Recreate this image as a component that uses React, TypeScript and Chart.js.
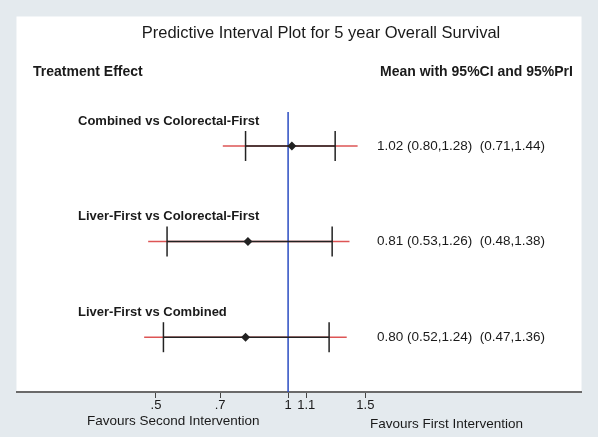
import React, { useEffect, useRef } from "react";
import { Chart, registerables } from "chart.js";

Chart.register(...registerables);

// ---- data ----
const comparisons = [
  "Combined vs Colorectal-First",
  "Liver-First vs Colorectal-First",
  "Liver-First vs Combined",
];
const rowIndex = [1, 2, 3];
const means = [1.02, 0.81, 0.8];
const ciLow = [0.8, 0.53, 0.52];
const ciHigh = [1.28, 1.26, 1.24];
const piLow = [0.71, 0.48, 0.47];
const piHigh = [1.44, 1.38, 1.36];
const xTickValues = [0.5, 0.7, 1, 1.1, 1.5];
const xTickLabels = [".5", ".7", "1", "1.1", "1.5"];
const nullEffect = 1;

const titleText = "Predictive Interval Plot for 5 year Overall Survival";
const leftHeader = "Treatment Effect";
const rightHeader = "Mean with 95%CI and 95%PrI";
const leftFooter = "Favours Second Intervention";
const rightFooter = "Favours First Intervention";

const FONT = "'Liberation Sans', Arial, Helvetica, sans-serif";
const RED = "#dd5555";
const BLACK = "#222222";
const BLUE = "#2a4cc2";

const fmt = (v: number) => v.toFixed(2);

const decorPlugin = {
  id: "decor",
  beforeDraw(chart: any) {
    const { ctx, chartArea } = chart;
    ctx.save();
    ctx.fillStyle = "#e4eaee";
    ctx.fillRect(0, 0, chart.width, chart.height);
    ctx.fillStyle = "#ffffff";
    ctx.fillRect(chartArea.left, chartArea.top, chartArea.right - chartArea.left, chartArea.bottom - chartArea.top);
    ctx.restore();
  },
  afterDraw(chart: any) {
    const { ctx } = chart;
    const y = chart.scales.y;
    ctx.save();
    ctx.fillStyle = "#1a1a1a";
    ctx.textBaseline = "middle";

    ctx.font = `16.5px ${FONT}`;
    ctx.textAlign = "center";
    ctx.fillText(titleText, 321, 33);

    ctx.textAlign = "left";
    ctx.font = `bold 14px ${FONT}`;
    ctx.fillText(leftHeader, 33, 72);
    ctx.fillText(rightHeader, 380, 72);

    comparisons.forEach((name, i) => {
      const py = y.getPixelForValue(rowIndex[i]);
      ctx.font = `bold 13px ${FONT}`;
      ctx.fillText(name, 78, py - 25);
      ctx.font = `13.5px ${FONT}`;
      const txt = `${fmt(means[i])} (${fmt(ciLow[i])},${fmt(ciHigh[i])})  (${fmt(piLow[i])},${fmt(piHigh[i])})`;
      ctx.fillText(txt, 377, py);
    });

    ctx.font = `13.5px ${FONT}`;
    ctx.fillText(leftFooter, 87, 421);
    ctx.fillText(rightFooter, 370, 424);
    ctx.restore();
  },
};

export default function App() {
  const ref = useRef<HTMLCanvasElement | null>(null);

  useEffect(() => {
    if (!ref.current) return;
    const datasets: any[] = [];

    datasets.push({
      label: "mean",
      data: means.map((m, i) => ({ x: m, y: rowIndex[i] })),
      showLine: false,
      pointStyle: "rectRot",
      pointRadius: 4.5,
      backgroundColor: BLACK,
      borderColor: BLACK,
      pointBorderWidth: 0,
      order: 0,
    });

    rowIndex.forEach((r, i) => {
      datasets.push({
        label: `ci${i}`,
        data: [
          { x: ciLow[i], y: r },
          { x: ciHigh[i], y: r },
        ],
        showLine: true,
        borderColor: BLACK,
        borderWidth: 1.5,
        pointStyle: "line",
        rotation: 90,
        pointRadius: 15,
        pointBorderColor: BLACK,
        pointBorderWidth: 1.5,
        order: 1,
        clip: false,
      });
      datasets.push({
        label: `pi${i}`,
        data: [
          { x: piLow[i], y: r },
          { x: piHigh[i], y: r },
        ],
        showLine: true,
        borderColor: RED,
        borderWidth: 1.5,
        pointRadius: 0,
        order: 3,
      });
    });

    datasets.push({
      label: "null",
      data: [
        { x: nullEffect, y: 0.646 },
        { x: nullEffect, y: 3.573 },
      ],
      showLine: true,
      borderColor: BLUE,
      borderWidth: 1.5,
      pointRadius: 0,
      order: 2,
    });

    const chart = new Chart(ref.current, {
      type: "scatter",
      data: { datasets },
      options: {
        responsive: false,
        maintainAspectRatio: false,
        devicePixelRatio: 1,
        animation: false,
        layout: { padding: { left: 15, right: 14, top: 15, bottom: 0 } },
        plugins: {
          legend: { display: false },
          tooltip: { enabled: false },
          title: { display: false },
        },
        scales: {
          x: {
            type: "logarithmic",
            min: 0.2406,
            max: 4.66,
            afterBuildTicks: (scale: any) => {
              scale.ticks = xTickValues.map((v) => ({ value: v }));
            },
            afterFit: (scale: any) => {
              scale.height = 45;
            },
            ticks: {
              autoSkip: false,
              maxRotation: 0,
              padding: 0,
              color: "#1a1a1a",
              font: { family: FONT, size: 13 },
              callback: (v: any) => {
                const idx = xTickValues.findIndex((t) => Math.abs(t - Number(v)) < 1e-9);
                return idx >= 0 ? xTickLabels[idx] : "";
              },
            },
            grid: {
              display: true,
              drawOnChartArea: false,
              drawTicks: true,
              tickLength: 6,
              color: "#444444",
              lineWidth: 1,
            },
            border: { display: true, color: "#6a6a6a", width: 2 },
          },
          y: {
            type: "linear",
            display: false,
            reverse: true,
            min: -0.354,
            max: 3.573,
          },
        },
      },
      plugins: [decorPlugin],
    } as any);

    return () => chart.destroy();
  }, []);

  return (
    <div style={{ position: "fixed", left: 0, top: 0, width: 598, height: 437 }}>
      <canvas ref={ref} width={598} height={437} style={{ display: "block" }} />
    </div>
  );
}
